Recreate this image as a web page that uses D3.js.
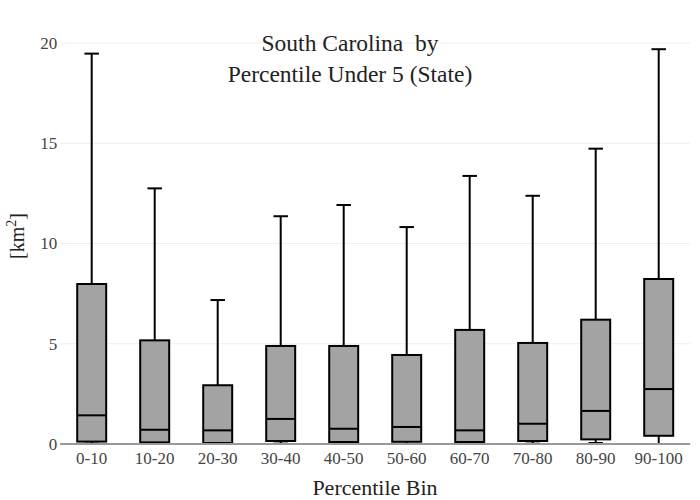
<!DOCTYPE html>
<html><head><meta charset="utf-8">
<script src="https://cdn.jsdelivr.net/npm/d3@7"></script>
<style>body{margin:0;background:#fff}svg{display:block}svg text{font-family:'Liberation Serif','Times New Roman',serif !important}</style>
</head><body>
<script>
const categories = ["0-10","10-20","20-30","30-40","40-50","50-60","60-70","70-80","80-90","90-100"];
const lowerWhisker = [0.02,0.0,0.0,0.02,0.0,0.0,0.0,0.02,0.05,0.0];
const q1 = [0.12,0.08,0.05,0.15,0.1,0.11,0.1,0.15,0.23,0.41];
const median = [1.43,0.71,0.68,1.25,0.76,0.85,0.68,1.01,1.65,2.74];
const q3 = [7.98,5.17,2.93,4.89,4.89,4.44,5.69,5.04,6.2,8.23];
const upperWhisker = [19.47,12.75,7.18,11.36,11.92,10.82,13.37,12.38,14.73,19.69];
const yTicks = [0,5,10,15,20];

const W = 700, H = 500;
const m = {l:60.2, r:9.8, t:43, b:56};
const svg = d3.select("body").append("svg").attr("width",W).attr("height",H);

const x = d3.scaleBand().domain(categories).range([m.l, W-m.r]).paddingInner(0).paddingOuter(0);
const y = d3.scaleLinear().domain([0,20]).range([H-m.b, m.t]);

// gridlines
svg.append("g").selectAll("line").data(yTicks.filter(d=>d>0)).join("line")
  .attr("x1",m.l).attr("x2",W-m.r).attr("y1",d=>y(d)).attr("y2",d=>y(d))
  .attr("stroke","#eee").attr("stroke-width",1);

// y axis labels
const yAxis = d3.axisLeft(y).tickValues(yTicks).tickSize(0).tickPadding(3);
const gy = svg.append("g").attr("transform",`translate(${m.l},0)`).call(yAxis);
gy.select(".domain").remove();
gy.selectAll("text").attr("font-size",17).attr("fill","#444");

const data = categories.map((c,i)=>({c, lo:lowerWhisker[i], q1:q1[i], med:median[i], q3:q3[i], hi:upperWhisker[i]}));
const bw = x.bandwidth()*0.46;
const cw = bw*0.5;
const g = svg.append("g");
data.forEach(d=>{
  const cx = x(d.c)+x.bandwidth()/2;
  g.append("line").attr("x1",cx).attr("x2",cx).attr("y1",y(d.q3)).attr("y2",y(d.hi)).attr("stroke","#000").attr("stroke-width",2);
  g.append("line").attr("x1",cx).attr("x2",cx).attr("y1",y(d.q1)).attr("y2",y(d.lo)).attr("stroke","#000").attr("stroke-width",2);
  g.append("line").attr("x1",cx-cw/2).attr("x2",cx+cw/2).attr("y1",y(d.hi)).attr("y2",y(d.hi)).attr("stroke","#000").attr("stroke-width",2);
  g.append("line").attr("x1",cx-cw/2).attr("x2",cx+cw/2).attr("y1",y(d.lo)).attr("y2",y(d.lo)).attr("stroke","#000").attr("stroke-width",2);
  g.append("rect").attr("x",cx-bw/2).attr("width",bw).attr("y",y(d.q3)).attr("height",y(d.q1)-y(d.q3))
    .attr("fill","#a3a3a3").attr("stroke","#000").attr("stroke-width",2);
  g.append("line").attr("x1",cx-bw/2).attr("x2",cx+bw/2).attr("y1",y(d.med)).attr("y2",y(d.med)).attr("stroke","#000").attr("stroke-width",2);
});

// zero line
svg.append("line").attr("x1",m.l).attr("x2",W-m.r).attr("y1",y(0)).attr("y2",y(0)).attr("stroke","#999").attr("stroke-width",2);

// x axis labels
const xAxis = d3.axisBottom(x).tickSize(0).tickPadding(8);
const gx = svg.append("g").attr("transform",`translate(0,${H-m.b})`).call(xAxis);
gx.select(".domain").remove();
gx.selectAll("text").attr("font-size",17).attr("fill","#444");

// titles
const t = svg.append("text").attr("text-anchor","middle").attr("font-size",23.5).attr("fill","#222").style("white-space","pre");
t.append("tspan").attr("x",350).attr("y",51).text("South Carolina  by");
t.append("tspan").attr("x",350).attr("y",82).text("Percentile Under 5 (State)");

svg.append("text").attr("x",375).attr("y",495).attr("text-anchor","middle").attr("font-size",22).attr("fill","#222").text("Percentile Bin");

const yl = svg.append("text").attr("transform","translate(24,236) rotate(-90)").attr("text-anchor","middle").attr("font-size",20).attr("fill","#222");
yl.append("tspan").text("[km");
yl.append("tspan").attr("dy",-8).attr("font-size",14).text("2");
yl.append("tspan").attr("dy",8).text("]");
</script>
</body></html>
